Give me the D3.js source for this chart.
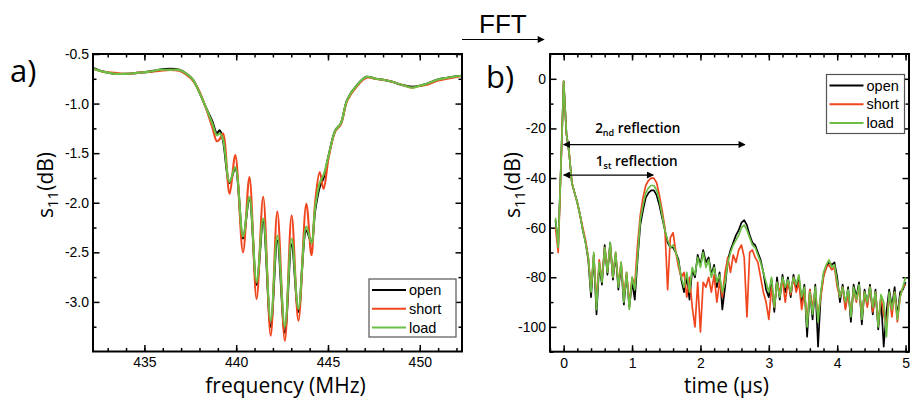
<!DOCTYPE html>
<html>
<head>
<meta charset="utf-8">
<script src="https://cdn.jsdelivr.net/npm/d3@7"></script>
<style>
  body { margin: 0; background: #fff; }
  svg { display: block; font-family: "Liberation Sans", Arial, sans-serif; }
</style>
</head>
<body>
<svg id="chart" width="910" height="399"></svg>
<script>
// ---- panel a: s11 vs frequency ----
const freqA = [432.2, 432.8, 433.4, 434.0, 434.6, 435.2, 435.8, 436.4, 436.9, 437.3,
  437.65, 438.0, 438.4, 438.7, 438.95, 439.1, 439.28, 439.64, 439.95, 440.37,
  440.72, 441.11, 441.47, 441.88, 442.24, 442.65, 443.02, 443.39, 443.82, 444.1,
  444.3, 444.55, 444.76, 445.04, 445.4, 445.7, 446.05, 446.6, 447.1, 447.6,
  448.0, 448.5, 449.0, 449.6, 450.0, 450.4, 450.95, 451.5, 452.3]
const openA = [-0.64, -0.68, -0.70, -0.70, -0.69, -0.68, -0.66, -0.65, -0.66, -0.70,
  -0.76, -0.89, -1.06, -1.18, -1.30, -1.27, -1.37, -1.80, -1.65, -2.36,
  -1.95, -2.83, -2.19, -3.25, -2.38, -3.31, -2.42, -3.10, -2.28, -2.40,
  -2.08, -1.84, -1.75, -1.52, -1.27, -1.20, -0.96, -0.81, -0.73, -0.75,
  -0.76, -0.78, -0.81, -0.83, -0.82, -0.80, -0.76, -0.74, -0.72]
const shortA = [-0.65, -0.68, -0.69, -0.70, -0.69, -0.68, -0.67, -0.66, -0.67, -0.71,
  -0.77, -0.88, -1.07, -1.24, -1.38, -1.36, -1.30, -1.91, -1.52, -2.50,
  -1.74, -2.97, -1.94, -3.34, -2.09, -3.39, -2.13, -3.19, -2.01, -2.53,
  -2.00, -1.69, -1.86, -1.54, -1.28, -1.21, -0.97, -0.82, -0.74, -0.75,
  -0.76, -0.78, -0.81, -0.84, -0.82, -0.81, -0.77, -0.75, -0.72]
const loadA = [-0.65, -0.68, -0.70, -0.70, -0.69, -0.68, -0.66, -0.66, -0.66, -0.70,
  -0.76, -0.89, -1.06, -1.20, -1.32, -1.30, -1.36, -1.79, -1.64, -2.34,
  -1.94, -2.80, -2.16, -3.19, -2.33, -3.25, -2.36, -3.07, -2.24, -2.41,
  -2.05, -1.80, -1.72, -1.52, -1.27, -1.20, -0.96, -0.81, -0.73, -0.75,
  -0.76, -0.78, -0.81, -0.84, -0.82, -0.80, -0.76, -0.74, -0.72]

// ---- panel b: s11 vs time (after FFT), sampled every 0.04 us from -0.12 us ----
const timeB = d3.range(129).map(i => +(-0.12 + i * 0.04).toFixed(2))
const openB = [-57, -67, -35, -1, -22, -30, -42, -46, -50, -55, -61, -66,
  -73, -88, -71, -95, -75, -83, -67, -79, -66, -81, -71, -85, -75, -91, -79, -92, -82, -89,
  -73, -59, -53, -48, -46, -45, -45, -47, -51, -56, -61, -66,
  -68, -68, -70, -73, -81, -86, -80, -89, -77, -80, -71, -75, -69, -74, -72, -79, -75, -84,
  -78, -93, -84, -73, -69, -66, -63, -61, -58, -57, -59, -63, -66, -67, -70, -73, -78, -85, -88,
  -81, -94, -80, -89, -79, -86, -80, -88, -79, -84, -80, -90, -83, -104, -85, -97, -83, -108,
  -87, -79, -76, -74, -75, -74, -80, -90, -83, -92, -84, -98, -83, -88, -82, -99, -85, -91,
  -83, -95, -85, -101, -88, -108, -94, -85, -92, -84, -96, -86, -85, -82]
const shortB = [-60, -70, -36, -1, -22, -30, -42, -46, -50, -55, -60, -65,
  -72, -85, -71, -90, -73, -81, -68, -77, -67, -80, -70, -83, -74, -88, -78, -91, -80, -83,
  -67, -55, -48, -43, -41, -40, -40, -42, -47, -53, -60, -85,
  -64, -62, -70, -76, -80, -78, -88, -80, -92, -100, -82, -102, -82, -84, -80, -86, -79, -90,
  -82, -88, -78, -72, -78, -71, -74, -69, -67, -72, -96, -70, -69, -72, -74, -80, -86, -90, -97,
  -84, -92, -82, -86, -81, -90, -82, -87, -80, -86, -82, -93, -86, -98, -85, -92, -86, -95,
  -88, -80, -76, -75, -77, -76, -84, -88, -84, -93, -86, -95, -85, -90, -84, -96, -86, -92,
  -84, -94, -86, -99, -88, -95, -100, -87, -96, -86, -98, -88, -84, -83]
const loadB = [-56, -68, -35, -1, -22, -30, -42, -46, -50, -55, -61, -66,
  -72, -86, -70, -93, -74, -82, -68, -78, -66, -80, -70, -84, -74, -90, -78, -93, -80, -85,
  -72, -57, -51, -46, -44, -43, -43, -45, -49, -55, -61, -65,
  -68, -67, -70, -74, -80, -84, -78, -86, -76, -79, -72, -76, -70, -76, -73, -80, -76, -82,
  -79, -86, -82, -74, -70, -67, -65, -63, -60, -59, -61, -64, -67, -68, -71, -74, -78, -82, -86,
  -80, -92, -82, -88, -80, -84, -81, -86, -80, -83, -79, -88, -84, -100, -86, -95, -84, -98,
  -86, -78, -75, -73, -76, -75, -82, -88, -84, -90, -85, -96, -84, -89, -83, -97, -86, -90,
  -84, -92, -86, -100, -87, -90, -104, -86, -93, -86, -97, -88, -84, -80]

const seriesNames = ["open", "short", "load"]
const seriesColors = ["#000000", "#f0461e", "#6cbf45"]

const freqTicks = [435, 440, 445, 450]
const dbTicksA = [-0.5, -1.0, -1.5, -2.0, -2.5, -3.0]
const timeTicks = [0, 1, 2, 3, 4, 5]
const dbTicksB = [0, -20, -40, -60, -80, -100]

// reflection markers in panel b (time in us, level in dB)
const reflections = [
  { order: "2", suffix: "nd", tStart: 0, tEnd: 2.65, level: -26.5, textT: 0.46, textLevel: -22 },
  { order: "1", suffix: "st", tStart: 0, tEnd: 1.31, level: -38.8, textT: 0.47, textLevel: -35.2 }
]

const svg = d3.select("#chart")

svg.append("defs").append("marker")
  .attr("id", "arrow")
  .attr("viewBox", "0 0 10 10")
  .attr("refX", 9).attr("refY", 5)
  .attr("markerWidth", 9).attr("markerHeight", 7)
  .attr("markerUnits", "userSpaceOnUse")
  .attr("orient", "auto-start-reverse")
  .append("path").attr("d", "M0,0 L10,5 L0,10 z").attr("fill", "#000")

function styleAxis(sel) {
  sel.attr("font-family", null).attr("font-size", 14)
  sel.select(".domain").remove()
  sel.selectAll("line").attr("stroke", "#000").attr("stroke-width", 1.5)
  sel.selectAll("text").attr("fill", "#000")
  // tick-only axes leave empty labels behind, drop them
  sel.selectAll("text").filter(function () { return this.textContent === "" }).remove()
}

function drawPanel(p) {
  const x = d3.scaleLinear().domain(p.xDomain).range([p.left, p.right])
  const y = d3.scaleLinear().domain(p.yDomain).range([p.bottom, p.top])
  const g = svg.append("g")

  // minor ticks, all four sides, pointing in
  g.append("g").attr("transform", `translate(0,${p.bottom})`)
    .call(d3.axisBottom(x).tickValues(p.xMinor).tickSize(-3.5).tickFormat("")).call(styleAxis)
  g.append("g").attr("transform", `translate(0,${p.top})`)
    .call(d3.axisTop(x).tickValues(p.xMinor).tickSize(-3.5).tickFormat("")).call(styleAxis)
  g.append("g").attr("transform", `translate(${p.left},0)`)
    .call(d3.axisLeft(y).tickValues(p.yMinor).tickSize(-3.5).tickFormat("")).call(styleAxis)
  g.append("g").attr("transform", `translate(${p.right},0)`)
    .call(d3.axisRight(y).tickValues(p.yMinor).tickSize(-3.5).tickFormat("")).call(styleAxis)

  // major ticks
  g.append("g").attr("transform", `translate(0,${p.bottom})`)
    .call(d3.axisBottom(x).tickValues(p.xTicks).tickSizeInner(-6.5).tickSizeOuter(0)
      .tickPadding(6).tickFormat(p.xFormat)).call(styleAxis)
  g.append("g").attr("transform", `translate(0,${p.top})`)
    .call(d3.axisTop(x).tickValues(p.xTicks).tickSize(-6.5).tickFormat("")).call(styleAxis)
  g.append("g").attr("transform", `translate(${p.left},0)`)
    .call(d3.axisLeft(y).tickValues(p.yTicks).tickSizeInner(-6.5).tickSizeOuter(0)
      .tickPadding(4).tickFormat(p.yFormat)).call(styleAxis)
  g.append("g").attr("transform", `translate(${p.right},0)`)
    .call(d3.axisRight(y).tickValues(p.yTicks).tickSize(-6.5).tickFormat("")).call(styleAxis)

  const clipId = "clip-" + p.name
  g.append("clipPath").attr("id", clipId)
    .append("rect")
      .attr("x", p.left).attr("y", p.top)
      .attr("width", p.right - p.left).attr("height", p.bottom - p.top)

  const line = d3.line()
    .x(d => x(d[0]))
    .y(d => y(d[1]))
    .curve(p.curve)

  p.series.forEach((vals, k) => {
    g.append("path")
      .datum(p.xs.map((xv, i) => [xv, vals[i]]))
      .attr("clip-path", `url(#${clipId})`)
      .attr("fill", "none")
      .attr("stroke", seriesColors[k])
      .attr("stroke-width", p.lineWidth)
      .attr("stroke-linejoin", "round")
      .attr("d", line)
  })

  // frame
  g.append("rect")
    .attr("x", p.left).attr("y", p.top)
    .attr("width", p.right - p.left).attr("height", p.bottom - p.top)
    .attr("fill", "none").attr("stroke", "#000").attr("stroke-width", 2)

  // legend
  const lg = g.append("g")
  lg.append("rect")
    .attr("x", p.legend.x).attr("y", p.legend.y)
    .attr("width", p.legend.w).attr("height", p.legend.h)
    .attr("fill", "#fff").attr("stroke", "#555").attr("stroke-width", 1.2)
  seriesNames.forEach((name, k) => {
    const ly = p.legend.y + 11 + k * 18.8
    lg.append("line")
      .attr("x1", p.legend.x + 3).attr("x2", p.legend.x + 37)
      .attr("y1", ly).attr("y2", ly)
      .attr("stroke", seriesColors[k]).attr("stroke-width", 2)
    lg.append("text")
      .attr("x", p.legend.x + 40).attr("y", ly + 5)
      .attr("font-size", 14.5)
      .text(name)
  })

  // axis titles
  g.append("text")
    .attr("x", (p.left + p.right) / 2 + p.xTitleShift).attr("y", 393)
    .attr("text-anchor", "middle")
    .attr("font-family", "'Open Sans', sans-serif")
    .attr("font-size", 21)
    .text(p.xTitle)

  const yt = g.append("text")
    .attr("transform", `translate(${p.yTitleX},185) rotate(-90)`)
    .attr("text-anchor", "middle")
    .attr("font-family", "'Open Sans', sans-serif")
    .attr("font-size", 21)
  yt.append("tspan").text("s")
  yt.append("tspan").attr("font-size", 15).attr("dy", 5).text("11")
  yt.append("tspan").attr("dy", -5).text("(dB)")

  g.append("text")
    .attr("x", p.tagX).attr("y", p.tagY)
    .attr("font-family", "'Open Sans', sans-serif")
    .attr("font-size", 31)
    .text(p.tag)

  return { x, y, g }
}

drawPanel({
  name: "a", tag: "a)", tagX: 10, tagY: 82,
  left: 93, right: 462, top: 54, bottom: 351.5,
  xDomain: [432.2, 452.3], yDomain: [-3.5, -0.5],
  xTicks: freqTicks, yTicks: dbTicksA,
  xMinor: d3.range(433, 453, 1), yMinor: d3.range(-3.25, -0.5, 0.5),
  xFormat: d => d, yFormat: d => d.toFixed(1),
  xs: freqA, series: [openA, shortA, loadA],
  curve: d3.curveCatmullRom.alpha(0.5), lineWidth: 2.1,
  legend: { x: 369, y: 279, w: 87, h: 58 },
  xTitle: "frequency (MHz)", xTitleShift: 8, yTitleX: 53
})

const b = drawPanel({
  name: "b", tag: "b)", tagX: 486, tagY: 88,
  left: 550, right: 909, top: 54, bottom: 351.7,
  xDomain: [-0.2, 5.05], yDomain: [-110, 10],
  xTicks: timeTicks, yTicks: dbTicksB,
  xMinor: d3.range(-0.2, 5.05, 0.2), yMinor: d3.range(-110, 10, 20),
  xFormat: d => d, yFormat: d => d,
  xs: timeB, series: [openB, shortB, loadB],
  curve: d3.curveLinear, lineWidth: 1.7,
  legend: { x: 826.5, y: 74.5, w: 78, h: 59 },
  xTitle: "time (\u00b5s)", xTitleShift: -3, yTitleX: 520
})

// reflection arrows and labels
reflections.forEach(r => {
  b.g.append("line")
    .attr("x1", b.x(r.tStart)).attr("x2", b.x(r.tEnd))
    .attr("y1", b.y(r.level)).attr("y2", b.y(r.level))
    .attr("stroke", "#000").attr("stroke-width", 1.3)
    .attr("marker-start", "url(#arrow)").attr("marker-end", "url(#arrow)")
  const t = b.g.append("text")
    .attr("x", b.x(r.textT)).attr("y", b.y(r.textLevel))
    .attr("font-family", "'Open Sans', sans-serif")
    .attr("font-weight", 600)
    .attr("font-size", 13.5)
  t.append("tspan").text(r.order)
  t.append("tspan").attr("font-size", 9).attr("dy", 3).text(r.suffix)
  t.append("tspan").attr("dy", -3).text(" reflection")
})

// FFT arrow between the panels
svg.append("text")
  .attr("x", 479).attr("y", 33)
  .attr("font-size", 26)
  .text("FFT")
svg.append("line")
  .attr("x1", 462).attr("x2", 544)
  .attr("y1", 39.5).attr("y2", 39.5)
  .attr("stroke", "#000").attr("stroke-width", 1.2)
  .attr("marker-end", "url(#arrow)")
</script>
</body>
</html>
